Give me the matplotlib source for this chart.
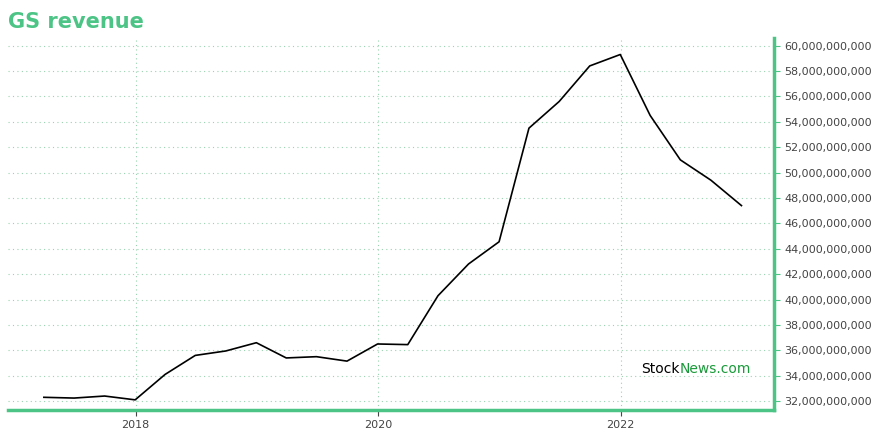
import matplotlib
matplotlib.use("Agg")
import matplotlib.pyplot as plt
import matplotlib.dates as mdates
import pandas as pd

dates = pd.date_range("2017-03-31", "2022-12-31", freq="QE")
revenue_b = [32.3, 32.24, 32.4, 32.1, 34.1, 35.6, 35.95, 36.6, 35.4, 35.5, 35.15, 36.5,
             36.45, 40.3, 42.8, 44.55, 53.5, 55.6, 58.4, 59.3, 54.5, 51.0, 49.4, 47.4]
yticks = list(range(32, 61, 2))
green = "#4cc485"

fig = plt.figure(figsize=(8.8, 4.4), dpi=100)
ax = fig.add_axes([8/880, 30/440, 766/880, 372/440])
ax.plot(dates, [v*1e9 for v in revenue_b], color="black", lw=1.2)
ax.set_ylim(31.3e9, 60.6e9)
ax.set_xlim(pd.Timestamp("2016-12-13"), pd.Timestamp("2023-04-08"))
ax.set_yticks([t*1e9 for t in yticks])
ax.set_yticklabels([f"{t*1000000000:,}" for t in yticks], fontsize=8, color="#444444")
ax.yaxis.tick_right()
ax.xaxis.set_major_locator(mdates.YearLocator(2))
ax.xaxis.set_major_formatter(mdates.DateFormatter("%Y"))
ax.tick_params(axis="x", labelsize=8, colors="#444444", length=4)
ax.tick_params(axis="y", length=4, color=green)
ax.grid(True, linestyle=(0, (1, 3)), color="#9ad3b0", lw=0.8)
for s in ["top", "left"]:
    ax.spines[s].set_visible(False)
for s in ["right", "bottom"]:
    ax.spines[s].set_color(green)
    ax.spines[s].set_linewidth(2.5)
fig.text(8/880, 1 - 22/440, "GS revenue", fontsize=15, fontweight="bold", color=green, va="center")
ax.text(0.877, 0.1, "Stock", transform=ax.transAxes, ha="right", fontsize=10, color="black")
ax.text(0.877, 0.1, "News.com", transform=ax.transAxes, ha="left", fontsize=10, color="#1a9a3a")
fig.savefig("out.png", dpi=100)
